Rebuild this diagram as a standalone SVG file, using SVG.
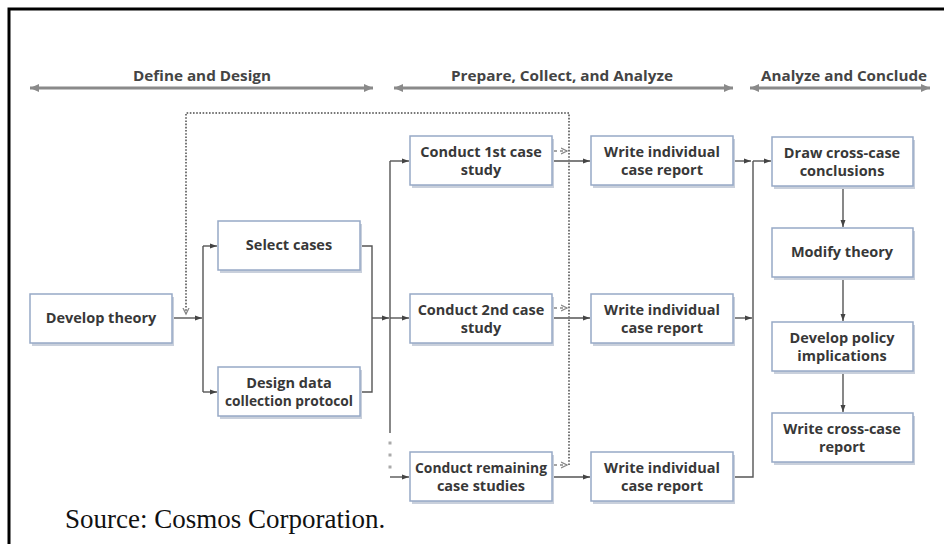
<svg xmlns="http://www.w3.org/2000/svg" width="944" height="544" viewBox="0 0 944 544">
  <style>
    .box { fill: #ffffff; stroke: #97a9c6; stroke-width: 1.5; }
    .shadow { fill: #c9d0dc; }
    .lbl { font-family: "Open Sans", "Noto Sans", sans-serif; font-weight: 700; font-size: 14.5px; fill: #383838; text-anchor: middle; }
    .hdr { font-family: "Open Sans", "Noto Sans", sans-serif; font-weight: 700; font-size: 15px; fill: #444; text-anchor: middle; }
    .conn { fill: none; stroke: #555; stroke-width: 1.4; }
    .phase { fill: none; stroke: #8a8a8a; stroke-width: 2.8; }
    .dot { fill: none; stroke: #777; stroke-width: 2; stroke-dasharray: 1.6 1.6; }
    .dash { fill: none; stroke: #888; stroke-width: 1.4; stroke-dasharray: 3 3; }
    .src { font-family: "Liberation Serif", "Times New Roman", serif; font-size: 27px; fill: #111; }
  </style>
  <defs>
    <marker id="arr" markerWidth="8" markerHeight="8" refX="7" refY="4" orient="auto" markerUnits="userSpaceOnUse">
      <path d="M0,1.5 L7,4 L0,6.5 Z" fill="#444"/>
    </marker>
    <marker id="phaseEnd" markerWidth="10" markerHeight="10" refX="9" refY="5" orient="auto-start-reverse" markerUnits="userSpaceOnUse">
      <path d="M0,1 L9,5 L0,9 Z" fill="#8a8a8a"/>
    </marker>
    <marker id="chev" markerWidth="8" markerHeight="8" refX="6" refY="4" orient="auto" markerUnits="userSpaceOnUse">
      <path d="M0,1 L6,4 L0,7" fill="none" stroke="#888" stroke-width="1.3"/>
    </marker>
  </defs>

  <rect x="0" y="0" width="944" height="544" fill="#ffffff"/>
  <!-- frame -->
  <path d="M9,544 V9 H944" fill="none" stroke="#000" stroke-width="3"/>

  <!-- phase headers -->
  <g id="phases">
    <text class="hdr" x="202" y="81" textLength="138" lengthAdjust="spacingAndGlyphs">Define and Design</text>
    <text class="hdr" x="562" y="81" textLength="222" lengthAdjust="spacingAndGlyphs">Prepare, Collect, and Analyze</text>
    <text class="hdr" x="844" y="81" textLength="166" lengthAdjust="spacingAndGlyphs">Analyze and Conclude</text>
    <path class="phase" d="M30,88 H373" marker-start="url(#phaseEnd)" marker-end="url(#phaseEnd)"/>
    <path class="phase" d="M394,88 H733" marker-start="url(#phaseEnd)" marker-end="url(#phaseEnd)"/>
    <path class="phase" d="M750,88 H930" marker-start="url(#phaseEnd)" marker-end="url(#phaseEnd)"/>
  </g>

  <!-- connectors -->
  <g id="connectors">
    <path class="conn" d="M172,318 H202" marker-end="url(#arr)"/>
    <path class="conn" d="M203,246 V392"/>
    <path class="conn" d="M203,246 H217" marker-end="url(#arr)"/>
    <path class="conn" d="M203,392 H217" marker-end="url(#arr)"/>
    <path class="conn" d="M360,246 H372 V392 H360"/>
    <path class="conn" d="M372,318 H389" marker-end="url(#arr)"/>
    <path class="conn" d="M390,161 V433"/>
    <path class="conn" d="M390,161 H409" marker-end="url(#arr)"/>
    <path class="conn" d="M390,318 H409" marker-end="url(#arr)"/>
    <path class="conn" d="M390,477 H409" marker-end="url(#arr)"/>
    <rect x="388.5" y="441.5" width="3" height="3" fill="#aaa"/>
    <rect x="388.5" y="453.5" width="3" height="3" fill="#aaa"/>
    <rect x="388.5" y="465.5" width="3" height="3" fill="#aaa"/>

    <path class="conn" d="M552,161 H590" marker-end="url(#arr)"/>
    <path class="conn" d="M552,318 H590" marker-end="url(#arr)"/>
    <path class="conn" d="M552,477 H590" marker-end="url(#arr)"/>

    <path class="dash" d="M554,151 H567" marker-end="url(#chev)"/>
    <path class="dash" d="M554,308 H567" marker-end="url(#chev)"/>
    <path class="dash" d="M554,465 H567" marker-end="url(#chev)"/>
    <path class="dot" d="M569,465 V113 H186 V314" marker-end="url(#chev)"/>

    <path class="conn" d="M733,161 H751" marker-end="url(#arr)"/>
    <path class="conn" d="M733,318 H752" marker-end="url(#arr)"/>
    <path class="conn" d="M733,477 H753 V161"/>
    <path class="conn" d="M753,161 H771" marker-end="url(#arr)"/>

    <path class="conn" d="M843,186 V227" marker-end="url(#arr)"/>
    <path class="conn" d="M843,277 V321" marker-end="url(#arr)"/>
    <path class="conn" d="M843,371 V412" marker-end="url(#arr)"/>
  </g>

  <!-- define and design -->
  <g id="develop-theory">
    <rect class="shadow" x="32" y="297" width="142" height="49"/>
    <rect class="box" x="30" y="294" width="142" height="49"/>
    <text class="lbl" x="101" y="323">Develop theory</text>
  </g>
  <g id="select-cases">
    <rect class="shadow" x="220" y="224" width="142" height="49"/>
    <rect class="box" x="218" y="221" width="142" height="49"/>
    <text class="lbl" x="289" y="250">Select cases</text>
  </g>
  <g id="design-protocol">
    <rect class="shadow" x="220" y="370" width="142" height="49"/>
    <rect class="box" x="218" y="367" width="142" height="49"/>
    <text class="lbl" x="289" y="388">Design data</text>
    <text class="lbl" x="289" y="406" textLength="128" lengthAdjust="spacingAndGlyphs">collection protocol</text>
  </g>

  <!-- prepare, collect, and analyze -->
  <g id="conduct-1">
    <rect class="shadow" x="412" y="139" width="142" height="49"/>
    <rect class="box" x="410" y="136" width="142" height="49"/>
    <text class="lbl" x="481" y="157">Conduct 1st case</text>
    <text class="lbl" x="481" y="175">study</text>
  </g>
  <g id="conduct-2">
    <rect class="shadow" x="412" y="297" width="142" height="49"/>
    <rect class="box" x="410" y="294" width="142" height="49"/>
    <text class="lbl" x="481" y="315">Conduct 2nd case</text>
    <text class="lbl" x="481" y="333">study</text>
  </g>
  <g id="conduct-rest">
    <rect class="shadow" x="412" y="455" width="142" height="49"/>
    <rect class="box" x="410" y="452" width="142" height="49"/>
    <text class="lbl" x="481" y="473" textLength="132" lengthAdjust="spacingAndGlyphs">Conduct remaining</text>
    <text class="lbl" x="481" y="491">case studies</text>
  </g>
  <g id="report-1">
    <rect class="shadow" x="593" y="139" width="142" height="49"/>
    <rect class="box" x="591" y="136" width="142" height="49"/>
    <text class="lbl" x="662" y="157">Write individual</text>
    <text class="lbl" x="662" y="175">case report</text>
  </g>
  <g id="report-2">
    <rect class="shadow" x="593" y="297" width="142" height="49"/>
    <rect class="box" x="591" y="294" width="142" height="49"/>
    <text class="lbl" x="662" y="315">Write individual</text>
    <text class="lbl" x="662" y="333">case report</text>
  </g>
  <g id="report-rest">
    <rect class="shadow" x="593" y="455" width="142" height="49"/>
    <rect class="box" x="591" y="452" width="142" height="49"/>
    <text class="lbl" x="662" y="473">Write individual</text>
    <text class="lbl" x="662" y="491">case report</text>
  </g>

  <!-- analyze and conclude -->
  <g id="cross-case">
    <rect class="shadow" x="774" y="140" width="141" height="49"/>
    <rect class="box" x="772" y="137" width="141" height="49"/>
    <text class="lbl" x="842" y="158">Draw cross-case</text>
    <text class="lbl" x="842" y="176">conclusions</text>
  </g>
  <g id="modify-theory">
    <rect class="shadow" x="774" y="231" width="141" height="49"/>
    <rect class="box" x="772" y="228" width="141" height="49"/>
    <text class="lbl" x="842" y="257">Modify theory</text>
  </g>
  <g id="policy">
    <rect class="shadow" x="774" y="325" width="141" height="49"/>
    <rect class="box" x="772" y="322" width="141" height="49"/>
    <text class="lbl" x="842" y="343">Develop policy</text>
    <text class="lbl" x="842" y="361">implications</text>
  </g>
  <g id="cross-report">
    <rect class="shadow" x="774" y="416" width="141" height="49"/>
    <rect class="box" x="772" y="413" width="141" height="49"/>
    <text class="lbl" x="842" y="434">Write cross-case</text>
    <text class="lbl" x="842" y="452">report</text>
  </g>

  <text class="src" x="65" y="528">Source: Cosmos Corporation.</text>
</svg>
